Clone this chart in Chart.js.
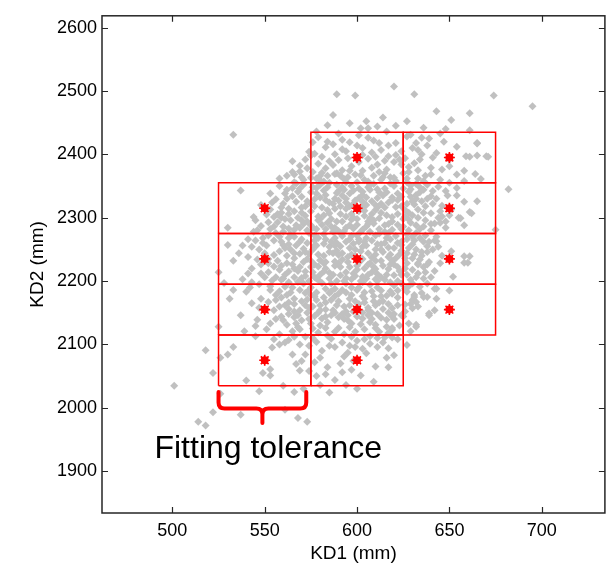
<!DOCTYPE html>
<html><head><meta charset="utf-8">
<script src="https://cdn.jsdelivr.net/npm/chart.js@4/dist/chart.umd.min.js"></script>
<style>html,body{margin:0;padding:0;background:#fff}</style>
</head><body>
<canvas id="c" width="612" height="567"></canvas>
<script>
// ---- tick labels ----
const xTicks = [500, 550, 600, 650, 700];
const yTicks = [1900, 2000, 2100, 2200, 2300, 2400, 2500, 2600];

// ---- fitting targets (red stars) and tolerance box size ----
const targetKD1 = [550, 550, 550, 550, 600, 600, 600, 600, 600, 650, 650, 650, 650];
const targetKD2 = [2315, 2235, 2155, 2075, 2395, 2315, 2235, 2155, 2075, 2395, 2315, 2235, 2155];
const toleranceKD1 = 50;
const toleranceKD2 = 80;

// ---- brace annotation (KD1 ends, KD2 top / bar / tip) ----
const braceKD1 = [525, 572.5];
const braceKD2 = [2025, 1999, 1976];
const annotationText = 'Fitting tolerance';
const annotationAt = [490.3, 1921];

// ---- measured samples [KD1, KD2] ----
const coreBands = [
[579,2427],[590,2433],[601,2430],[609,2422],[616,2436],[627,2428],
[583,2411],[594,2405],[600,2414],[613,2407],[621,2399],[630,2410],
[572,2392],[579,2385],[590,2391],[597,2381],[606,2393],[611,2384],[620,2388],[628,2380],
[576,2372],[584,2366],[592,2375],[599,2368],[604,2360],[612,2372],[618,2364],[625,2370],[633,2362],
[562,2344],[571,2352],[578,2347],[585,2355],[590,2342],[597,2350],[603,2341],[609,2353],[615,2346],[622,2338],[629,2351],[644,2349],
[556,2329],[565,2334],[573,2326],[580,2332],[587,2322],[592,2335],[599,2327],[605,2320],[611,2331],[617,2324],[624,2333],[631,2321],[646,2319],
[551,2305],[568,2300],[575,2310],[582,2304],[588,2314],[594,2302],[601,2310],[607,2299],[613,2308],[619,2301],[626,2312],[633,2300],[640,2307],
[548,2287],[557,2293],[563,2283],[571,2290],[578,2282],[584,2292],[590,2279],[596,2288],[603,2281],[609,2291],[615,2278],[622,2289],[628,2280],[636,2286],
[541,2266],[552,2272],[559,2262],[566,2270],[573,2260],[579,2268],[586,2262],[592,2271],[598,2259],[605,2268],[611,2258],[618,2266],[624,2257],[631,2264],[638,2255],
[536,2244],[547,2250],[555,2241],[561,2252],[569,2243],[576,2250],[582,2240],[589,2248],[595,2238],[602,2247],[608,2237],[614,2246],[621,2236],[627,2244],[634,2234],[646,2240],
[543,2220],[552,2228],[558,2218],[565,2226],[572,2215],[579,2223],[585,2213],[591,2222],[598,2212],[604,2220],[611,2211],[617,2219],[624,2210],[630,2218],[652,2207],
[528,2197],[538,2203],[547,2195],[554,2201],[561,2191],[568,2199],[575,2190],[581,2197],[588,2188],[594,2196],[600,2186],[607,2194],[613,2185],[620,2193],[627,2183],[634,2191],
[531,2172],[552,2167],[559,2174],[566,2164],[573,2171],[580,2162],[586,2170],[593,2160],[599,2168],[606,2158],[612,2166],[619,2157],[626,2163],
[537,2146],[556,2140],[563,2148],[570,2138],[577,2145],[584,2135],[590,2143],[597,2133],[603,2141],[610,2131],[616,2139],[623,2130],
[551,2124],[558,2116],[565,2121],[572,2112],[579,2119],[586,2109],[593,2116],[600,2106],[607,2113],[614,2103],[622,2108],
[574,2098],[581,2090],[588,2096],[595,2087],[603,2093],[611,2096],[627,2099],
[577,2072],[584,2064],[591,2070],[597,2060],[578,2050],[588,2044],[594,2036],[585,2024]
];
const coreFill = [
[580,2359],[593,2361],[606,2357],[620,2363],
[578,2338],[589,2339],[596,2318],[603,2336],[616,2340],[628,2341],
[577,2318],[585,2324],[598,2322],[610,2320],[621,2317],[630,2326],
[579,2296],[586,2298],[597,2297],[606,2294],[612,2299],[625,2298],
[574,2276],[582,2274],[593,2279],[600,2272],[612,2275],[621,2271],[632,2276],
[577,2256],[585,2254],[596,2252],[605,2256],[617,2253],[628,2252],
[575,2232],[588,2231],[595,2230],[601,2229],[613,2232],[620,2226],[633,2228],
[577,2206],[585,2204],[591,2209],[603,2207],[610,2203],[622,2200],
[578,2182],[590,2180],[597,2178],[604,2182],[616,2177],[631,2178],
[583,2155],[594,2152],[608,2150],[620,2148],
[583,2126],[596,2127],[604,2124]
];
const coreFill2 = [
[584,2446],[596,2449],[611,2444],[627,2452],[636,2442],[648,2440],[587,2462],[614,2458],
[584,2420],[596,2419],[606,2426],[621,2418],[635,2426],[645,2433],
[574,2404],[588,2400],[603,2399],[617,2397],[626,2394],[638,2414],[650,2392],
[569,2382],[583,2378],[596,2374],[608,2379],[616,2376],[631,2386],[646,2376],[654,2368],
[558,2362],[570,2364],[589,2352],[600,2356],[613,2360],[627,2356],[638,2352],[650,2355],
[553,2338],[568,2341],[582,2343],[594,2330],[607,2344],[619,2332],[634,2348],[649,2335],[654,2347],
[548,2320],[560,2322],[570,2316],[584,2312],[591,2318],[604,2311],[615,2316],[628,2308],[637,2318],[651,2313],
[545,2296],[555,2301],[564,2296],[573,2294],[581,2289],[592,2294],[600,2289],[617,2290],[629,2292],[644,2300],[650,2304],
[544,2278],[553,2282],[566,2281],[577,2272],[588,2284],[597,2271],[607,2278],[619,2281],[630,2270],[640,2280],[648,2284],
[538,2256],[549,2260],[563,2258],[571,2251],[582,2259],[591,2255],[601,2262],[610,2250],[622,2260],[635,2246],[644,2254],
[541,2238],[552,2235],[562,2240],[571,2230],[580,2233],[590,2241],[599,2239],[607,2228],[618,2242],[630,2236],[639,2230],
[548,2212],[556,2206],[563,2215],[570,2205],[582,2215],[594,2205],[602,2200],[610,2219],[620,2209],[629,2202],[637,2214],
[533,2186],[542,2190],[558,2184],[565,2190],[572,2181],[585,2181],[597,2190],[609,2176],[618,2184],[628,2192],[638,2196],
[547,2158],[555,2154],[561,2162],[569,2154],[576,2160],[587,2154],[600,2158],[610,2162],[617,2150],[626,2152],[633,2160],
[545,2129],[553,2133],[562,2131],[568,2127],[575,2133],[588,2120],[593,2140],[607,2135],[612,2120],[628,2133],
[563,2107],[569,2100],[578,2104],[585,2098],[592,2103],[599,2096],[607,2101],[617,2094],
[572,2084],[580,2079],[593,2081],[598,2074],[574,2058],[583,2053],[592,2056],[580,2036],[571,2030]
];
const coreFill3 = [
[575,2398],[592,2408],[608,2403],[624,2405],[641,2395],
[565,2372],[587,2383],[601,2388],[615,2390],[633,2375],[624,2384],
[571,2360],[580,2366],[595,2364],[609,2366],[621,2358],[637,2366],[645,2360],
[565,2347],[575,2340],[584,2348],[593,2344],[606,2348],[612,2340],[625,2346],[632,2336],[641,2342],
[559,2316],[567,2325],[577,2329],[590,2327],[601,2331],[608,2326],[619,2328],[627,2322],[635,2326],[643,2330],
[557,2306],[566,2310],[572,2303],[585,2307],[597,2306],[604,2303],[610,2312],[622,2306],[630,2304],[637,2296],
[560,2278],[569,2284],[575,2288],[587,2278],[594,2284],[605,2286],[612,2282],[625,2286],[634,2282],[643,2270],
[555,2264],[563,2268],[570,2266],[583,2266],[589,2260],[601,2266],[608,2264],[615,2260],[627,2266],[636,2262],
[558,2247],[566,2244],[574,2243],[585,2246],[592,2244],[599,2250],[610,2242],[617,2238],[624,2248],[631,2242],[641,2250],
[555,2223],[562,2228],[569,2222],[577,2226],[588,2224],[596,2222],[606,2226],[614,2224],[622,2222],[627,2228],[636,2222],
[559,2202],[566,2206],[574,2200],[580,2210],[589,2200],[597,2203],[606,2210],[615,2202],[624,2196],[632,2206],
[562,2178],[569,2186],[577,2176],[583,2188],[592,2186],[603,2176],[611,2190],[622,2185],[635,2181],
[563,2156],[574,2158],[583,2166],[590,2168],[596,2162],[604,2166],[614,2168],[622,2162],
[566,2143],[573,2150],[581,2141],[588,2150],[600,2144],[606,2146],[613,2142],[620,2140],
[569,2124],[576,2125],[590,2126],[599,2120],[610,2126],[617,2118]
];
const coreFill4 = [
[587,2416],[603,2410],[617,2414],[632,2418],[578,2436],
[581,2396],[595,2394],[610,2396],[623,2392],[635,2400],[612,2418],
[573,2378],[589,2370],[603,2374],[615,2370],[628,2372],[640,2368],[562,2366],
[567,2354],[582,2357],[594,2356],[607,2352],[618,2354],[632,2353],[598,2343],[576,2348],
[561,2338],[570,2333],[583,2336],[596,2338],[605,2332],[614,2335],[629,2333],[640,2334],[588,2330],
[553,2313],[563,2306],[572,2318],[581,2316],[594,2314],[603,2316],[611,2316],[624,2318],[633,2313],[645,2310],
[552,2293],[561,2298],[570,2296],[580,2298],[589,2294],[600,2298],[609,2296],[619,2294],[628,2297],[640,2290],
[556,2276],[564,2274],[573,2280],[583,2282],[591,2276],[602,2278],[610,2272],[617,2276],[627,2274],[637,2272],[546,2280],
[551,2256],[560,2257],[567,2256],[578,2256],[588,2256],[594,2262],[603,2254],[613,2258],[620,2252],[630,2258],[639,2262],[543,2254],
[546,2234],[557,2232],[566,2236],[573,2235],[583,2230],[592,2234],[603,2235],[610,2232],[619,2232],[626,2236],[635,2240],[645,2228],
[552,2214],[561,2210],[568,2216],[576,2214],[583,2220],[594,2214],[600,2218],[608,2214],[616,2210],[623,2216],[633,2212],[541,2212],
[553,2192],[563,2198],[571,2196],[579,2202],[586,2196],[593,2200],[603,2198],[611,2200],[618,2198],[630,2196],[543,2198],
[556,2178],[566,2172],[575,2178],[582,2174],[588,2176],[596,2172],[604,2172],[613,2176],[622,2174],[630,2170],[548,2172],
[558,2160],[566,2152],[572,2162],[580,2154],[592,2148],[598,2152],[606,2154],[614,2156],[624,2146],
[560,2138],[567,2133],[574,2140],[583,2144],[595,2138],[602,2132],[608,2140],[616,2128],[580,2130],
[555,2108],[566,2112],[576,2110],[584,2114],[597,2112],[604,2108],[611,2110],[596,2098]
];
const coreFill5 = [
[566,2368],[578,2362],[591,2366],[602,2367],[614,2364],[627,2362],[636,2358],
[558,2350],[569,2346],[580,2352],[592,2348],[601,2346],[611,2345],[620,2350],[636,2344],[648,2342],
[554,2324],[562,2330],[575,2322],[583,2328],[594,2324],[603,2325],[613,2322],[622,2328],[632,2330],[641,2322],
[559,2300],[570,2308],[579,2302],[591,2306],[598,2300],[608,2306],[616,2304],[626,2302],[636,2308],[646,2302],
[555,2286],[567,2288],[576,2284],[586,2286],[598,2283],[606,2290],[615,2288],[624,2282],[632,2288],[645,2292],
[549,2268],[558,2270],[569,2262],[577,2264],[588,2268],[596,2266],[604,2262],[616,2268],[624,2262],[634,2268],[642,2264],
[550,2244],[564,2250],[572,2246],[579,2242],[587,2244],[597,2242],[606,2244],[613,2250],[623,2242],[632,2250],[638,2246],
[548,2226],[559,2224],[566,2220],[575,2222],[582,2228],[590,2228],[600,2224],[609,2222],[618,2226],[626,2220],[638,2226],
[550,2206],[560,2204],[572,2208],[578,2204],[587,2210],[599,2208],[605,2204],[613,2206],[627,2210],[636,2204],
[553,2186],[564,2182],[574,2186],[586,2184],[594,2182],[601,2190],[608,2184],[619,2180],[626,2188],
[556,2170],[563,2166],[570,2168],[578,2170],[589,2162],[601,2164],[609,2168],[617,2164],[629,2164],
[559,2144],[568,2146],[579,2150],[586,2146],[595,2146],[603,2150],[611,2148],[619,2144]
];
const upperSamples = [
[589,2495],[533,2431],[565,2389],[569,2373],[566,2356],[537,2343],[544,2301],[559,2308],[563,2314],
[530,2284],[530,2257],[545,2264],[560,2286],[576,2419],[577,2401],[585,2389],[588,2369],[581,2371],[575,2363],[592,2423],
[620,2507],[599,2493],[631,2495],[674,2493],[695,2476],[643,2468],[661,2465],[651,2454],[621,2445],[605,2452],[602,2441],[606,2441],
[661,2438],[682,2345],[665,2417],[671,2396],[665,2398],[661,2396],[665,2326],[661,2309],[655,2300],[675,2281]
];
const rightSamples = [
[629,2431],[639,2425],[647,2420],[654,2412],[665,2418],[633,2407],[643,2402],[659,2397],[670,2397],[634,2392],
[640,2379],[650,2381],[658,2374],[664,2369],[667,2361],[658,2358],
[629,2345],[634,2340],[638,2330],[654,2335],[658,2325],[662,2307],[656,2299],[658,2288],[648,2294],[642,2291],
[643,2263],[651,2247],[658,2239],[660,2229],[642,2216],[640,2206],[633,2226],
[643,2188],[638,2175],[631,2175],[632,2131],[639,2146],[625,2144],[619,2123],[629,2121],
[661,2239],[658,2229],[650,2185],[643,2172],[642,2188],[636,2175],[632,2167],[630,2157],[639,2149],[642,2154],[632,2128]
];
const lowerSamples = [
[501,2035],[518,2091],[514,1978],[518,1972],[522,1993],[522,2055],[526,2022],[530,2084],[526,2079],[533,2096],
[540,2043],[537,1989],[547,2026],[549,2055],[553,2051],[553,2061],[560,2035],[566,2025],[568,1984],[573,1978],[561,1997],
[533,2232],[525,2214],[525,2128],[540,2183],[539,2121],[543,2165],[546,2139],[545,2113],[554,2095],[558,2100],[561,2103],
[565,2084],[567,2069],[570,2074],[569,2059],
[620,2083],[616,2079],[617,2064],[610,2065],[605,2086],[602,2051],[609,2041],[600,2030],[619,2111],[615,2111],[619,2126]
];

const FONT = 'Arial, "Liberation Sans", sans-serif';
const TXT = '#000000';
const allSamples = [].concat(coreBands, coreFill, coreFill2, coreFill3, coreFill4, coreFill5, upperSamples, rightSamples, lowerSamples)
  .map(p => ({x: p[0], y: p[1]}));
const targets = targetKD1.map((v, i) => ({x: v, y: targetKD2[i]}));

const boxDatasets = targets.map(t => {
  const x0 = t.x - toleranceKD1 / 2, x1 = t.x + toleranceKD1 / 2;
  const y0 = t.y - toleranceKD2 / 2, y1 = t.y + toleranceKD2 / 2;
  return {
    data: [{x: x0, y: y0}, {x: x1, y: y0}, {x: x1, y: y1}, {x: x0, y: y1}, {x: x0, y: y0}],
    showLine: true, borderColor: '#ff0000', borderWidth: 1.5, pointRadius: 0, fill: false,
    tension: 0, order: 1
  };
});

const framePlugin = {
  id: 'frame',
  afterDatasetsDraw(chart) {
    const {ctx, scales: {x, y}} = chart;
    ctx.save();
    const xl = x.getPixelForValue(braceKD1[0]), xr = x.getPixelForValue(braceKD1[1]);
    const xm = (xl + xr) / 2;
    const yt = y.getPixelForValue(braceKD2[0]), yh = y.getPixelForValue(braceKD2[1]), ytip = y.getPixelForValue(braceKD2[2]);
    const r = 6;
    ctx.beginPath();
    ctx.moveTo(xl, yt); ctx.lineTo(xl, yh - r); ctx.quadraticCurveTo(xl, yh, xl + r, yh);
    ctx.lineTo(xm - r, yh); ctx.quadraticCurveTo(xm, yh, xm, yh + r); ctx.lineTo(xm, ytip);
    ctx.moveTo(xr, yt); ctx.lineTo(xr, yh - r); ctx.quadraticCurveTo(xr, yh, xr - r, yh);
    ctx.lineTo(xm + r, yh); ctx.quadraticCurveTo(xm, yh, xm, yh + r);
    ctx.strokeStyle = '#ff0000'; ctx.lineWidth = 4; ctx.lineCap = 'round'; ctx.lineJoin = 'round';
    ctx.stroke();
    ctx.fillStyle = '#000';
    ctx.font = '32px ' + FONT;
    ctx.textBaseline = 'alphabetic'; ctx.textAlign = 'left';
    ctx.fillText(annotationText, x.getPixelForValue(annotationAt[0]), y.getPixelForValue(annotationAt[1]));
    ctx.restore();
  },
  afterDraw(chart) {
    const {ctx, chartArea: a, scales: {x, y}} = chart;
    ctx.save();
    ctx.strokeStyle = '#262626';
    ctx.lineWidth = 1.5;
    ctx.strokeRect(a.left, a.top, a.right - a.left, a.bottom - a.top);
    ctx.lineWidth = 1.2;
    const L = 6;
    ctx.beginPath();
    xTicks.forEach(v => {
      const px = Math.round(x.getPixelForValue(v)) + 0.5;
      ctx.moveTo(px, a.bottom); ctx.lineTo(px, a.bottom - L);
      ctx.moveTo(px, a.top); ctx.lineTo(px, a.top + L);
    });
    yTicks.forEach(v => {
      const py = Math.round(y.getPixelForValue(v)) + 0.5;
      ctx.moveTo(a.left, py); ctx.lineTo(a.left + L, py);
      ctx.moveTo(a.right, py); ctx.lineTo(a.right - L, py);
    });
    ctx.stroke();
    ctx.restore();
  }
};

new Chart(document.getElementById('c'), {
  type: 'scatter',
  data: {
    datasets: [
      {data: targets, pointStyle: 'circle', pointRadius: 4, backgroundColor: '#ff0000', borderWidth: 0, order: 0},
      {data: targets, pointStyle: 'star', pointRadius: 5.5, borderColor: '#ff0000', borderWidth: 1.6, order: 0},
      ...boxDatasets,
      {data: allSamples, pointStyle: 'rectRot', pointRadius: 4, backgroundColor: '#c0c0c0', borderWidth: 0, order: 2}
    ]
  },
  options: {
    responsive: false,
    animation: false,
    devicePixelRatio: 1,
    events: [],
    layout: {padding: {left: 0, top: 7, right: 3, bottom: 0}},
    plugins: {legend: {display: false}, tooltip: {enabled: false}},
    scales: {
      x: {
        type: 'linear', min: 461.9, max: 734.2,
        afterBuildTicks: s => { s.ticks = xTicks.map(v => ({value: v})); },
        afterFit: s => { s.height = 54; },
        grid: {display: false, drawTicks: false}, border: {display: false},
        ticks: {padding: 7, color: TXT, font: {size: 18, family: FONT}, callback: v => String(v)},
        title: {display: true, text: 'KD1 (mm)', color: TXT, font: {size: 19, family: FONT}, padding: {top: 0, bottom: 2}}
      },
      y: {
        type: 'linear', min: 1834, max: 2618.6,
        afterBuildTicks: s => { s.ticks = yTicks.map(v => ({value: v})); },
        afterFit: s => { s.width = 102; },
        grid: {display: false, drawTicks: false}, border: {display: false},
        ticks: {padding: 5, color: TXT, font: {size: 18, family: FONT}, callback: v => String(v)},
        title: {display: true, text: 'KD2 (mm)', color: TXT, font: {size: 19, family: FONT}, padding: {top: 26, bottom: 0}}
      }
    }
  },
  plugins: [framePlugin]
});
</script>
</body></html>
